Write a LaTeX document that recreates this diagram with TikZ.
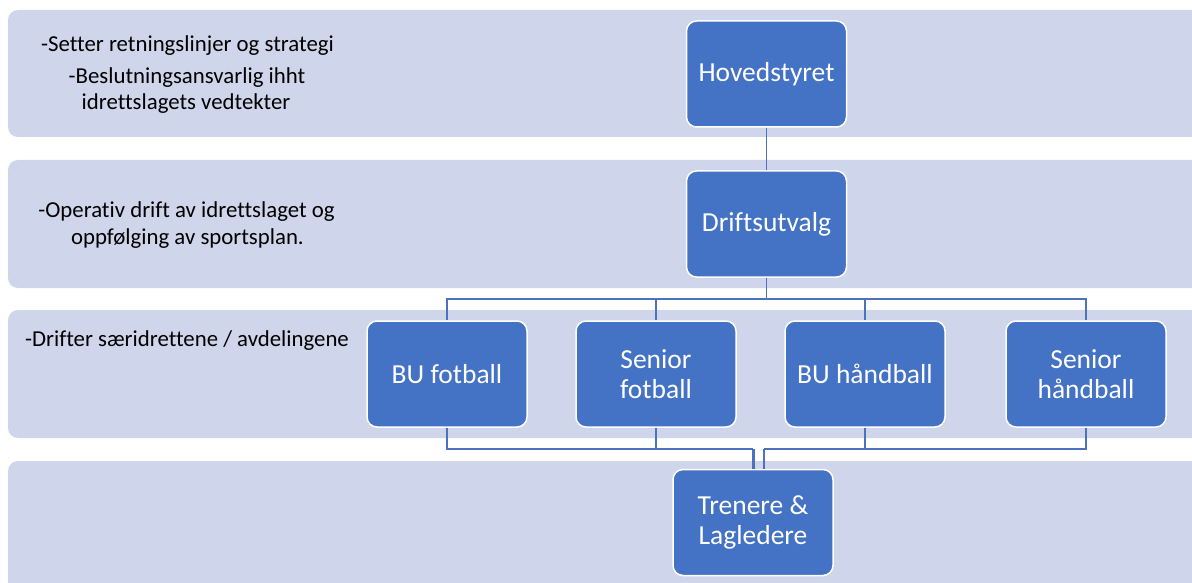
\documentclass[tikz,border=0pt]{standalone}
\usepackage{fontspec}
\setmainfont{Carlito}[Ligatures=CommonOff]
\definecolor{bandfill}{HTML}{CFD5EA}
\definecolor{boxblue}{HTML}{4472C4}
\definecolor{linkblue}{HTML}{4A72BD}
\begin{document}
\begin{tikzpicture}[x=1pt,y=-1pt,
  band/.style={fill=bandfill, rounded corners=10pt},
  orgbox/.style={fill=boxblue, draw=white, line width=1.5pt, rounded corners=10pt,
    minimum width=160pt, minimum height=106pt, text=white, align=center,
    font=\fontsize{27.5}{30}\selectfont, inner sep=0pt},
  desc/.style={anchor=base, font=\fontsize{22.8}{26}\selectfont, text=black, inner sep=0pt},
  link/.style={draw=linkblue, line width=1.5pt}]
\useasboundingbox (0,0) rectangle (1192,583);
\begin{scope}
\clip (0,0) rectangle (1192,583);
\fill[band] (8,10) rectangle (1215,137);
\fill[band] (8,160) rectangle (1215,288);
\fill[band] (8,310) rectangle (1215,438);
\fill[band] (8,461) rectangle (1215,600);
\end{scope}

% descriptions
\node[desc] (d1) at (187.5,52) {-Setter retningslinjer og strategi};
\node[desc] (d2) at (187,84) {-Beslutningsansvarlig ihht};
\node[desc] (d3) at (186,110) {idrettslagets vedtekter};
\node[desc] (d4) at (186.5,218) {-Operativ drift av idrettslaget og};
\node[desc] (d5) at (187.5,244) {oppfølging av sportsplan.};
\node[desc] (d6) at (187,346) {-Drifter særidrettene / avdelingene};

% coordinates for buses
\coordinate (bus1) at (766.5,299);
\coordinate (tl) at (753,449);
\coordinate (tr) at (764,449);

\node[orgbox] (hoved) at (766.5,74) {Hovedstyret};
\node[orgbox] (drift) at (766.5,224) {Driftsutvalg};
\node[orgbox] (bu) at (447,374) {BU fotball};
\node[orgbox] (sf) at (656,374) {Senior\\fotball};
\node[orgbox] (bh) at (865,374) {BU håndball};
\node[orgbox] (sh) at (1086,374) {Senior\\håndball};
\node[orgbox] (tren) at (753,522.5) {Trenere \&\\Lagledere};

\draw[link] (hoved.south) -- (drift.north);
\draw[link] (drift.south) -- (bus1) -| (bu.north);
\draw[link] (bus1) -| (sf.north);
\draw[link] (bus1) -| (bh.north);
\draw[link] (bus1) -| (sh.north);
\draw[link] (bu.south) |- (tl);
\draw[link] (sf.south) |- (tl);
\draw[link] (bh.south) |- (tr);
\draw[link] (sh.south) |- (tr);
\draw[link, line width=3pt] (tl) -- (tl |- tren.north);
\draw[link] (tr) -- (tr |- tren.north);
\end{tikzpicture}
\end{document}
